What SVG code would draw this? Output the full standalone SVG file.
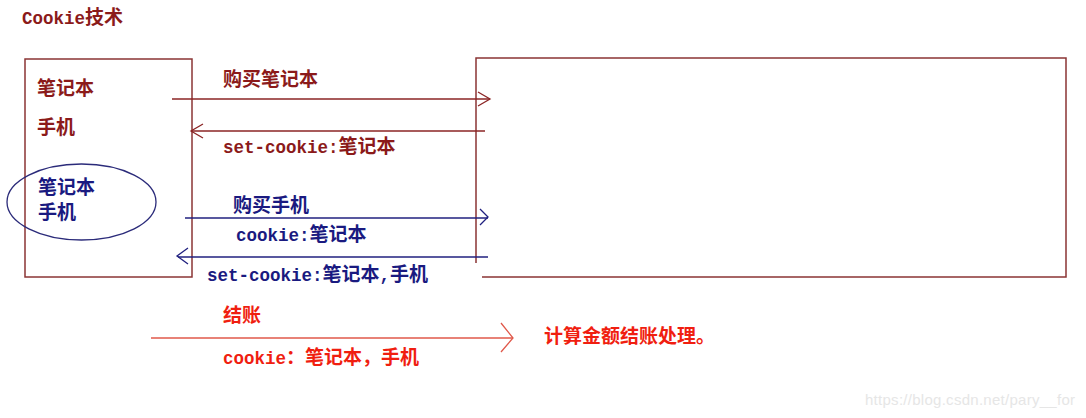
<svg xmlns="http://www.w3.org/2000/svg" width="1086" height="418" viewBox="0 0 1086 418">
<style>
.bg{fill:#ffffff}
.box{fill:none;stroke:#8B3535;stroke-width:1.5}
.dr{fill:#8B1A1A}
.nv{fill:#1A1A80}
.rd{fill:#F01E10}
.cjk{font-family:"Noto Sans CJK SC","Liberation Sans",sans-serif;font-size:19px;font-weight:bold}
.mono{font-family:"Liberation Mono","Noto Sans CJK SC",monospace;font-size:17.5px;font-weight:bold}
.ln-dr{fill:none;stroke:#8B2525;stroke-width:1.3}
.ln-nv{fill:none;stroke:#20207F;stroke-width:1.3}
.ln-rd{fill:none;stroke:#E0584A;stroke-width:1.3}
.wm{font-family:"Liberation Sans",Arial,sans-serif;font-size:15px;fill:#e6e6e6}
</style>
<rect class="bg" x="0" y="0" width="1086" height="418"/>

<g id="title">
  <text class="dr" x="22" y="24"><tspan class="mono" font-size="17">Cookie</tspan><tspan class="cjk" font-size="19">技术</tspan></text>
</g>

<g id="client">
  <rect class="box" x="25" y="59" width="167" height="218"/>
  <text class="dr cjk" x="37" y="95">笔记本</text>
  <text class="dr cjk" x="37" y="134">手机</text>
</g>

<g id="cookie-store">
  <ellipse cx="81.5" cy="202" rx="74.5" ry="38" fill="none" stroke="#2B2B7A" stroke-width="1.3"/>
  <text class="nv cjk" x="38" y="194">笔记本</text>
  <text class="nv cjk" x="38" y="219">手机</text>
</g>

<g id="server">
  <path class="box" d="M476,263 V58 H1066 V277 H482"/>
</g>

<g id="result">
  <text class="rd cjk" x="544" y="343">计算金额结账处理。</text>
</g>

<g id="connectors">
  <line class="ln-dr" x1="172" y1="99" x2="490" y2="99"/>
  <polyline class="ln-dr" points="478,92 490,99 478,106"/>
  <text class="dr cjk" x="223" y="86">购买笔记本</text>

  <line class="ln-dr" x1="485" y1="131" x2="191" y2="131"/>
  <polyline class="ln-dr" points="203,124 191,131 203,138"/>
  <text class="dr" x="223" y="153"><tspan class="mono">set-cookie:</tspan><tspan class="cjk">笔记本</tspan></text>

  <line class="ln-nv" x1="185" y1="218" x2="488" y2="218"/>
  <polyline class="ln-nv" points="480,209 488,217 480,225"/>
  <text class="nv cjk" x="233" y="212">购买手机</text>
  <text class="nv" x="236" y="241"><tspan class="mono" font-size="17">cookie:</tspan><tspan class="cjk" font-size="19.5">笔记本</tspan></text>

  <line class="ln-nv" x1="488" y1="257" x2="178" y2="257"/>
  <polyline class="ln-nv" points="188,248 177,256 188,264"/>
  <text class="nv" x="207" y="281"><tspan class="mono">set-cookie:</tspan><tspan class="cjk" font-size="19.5">笔记本</tspan><tspan class="mono">,</tspan><tspan class="cjk" font-size="19.5">手机</tspan></text>

  <line class="ln-rd" x1="151" y1="338" x2="513" y2="338"/>
  <polyline class="ln-rd" points="501,323 513,338 501,352"/>
  <text class="rd cjk" x="223" y="322">结账</text>
  <text class="rd" x="223" y="364"><tspan class="mono" font-size="16.7">cookie</tspan><tspan class="cjk" font-size="20">：笔记本，手机</tspan></text>
</g>

<text class="wm" x="865" y="405" textLength="210">https://blog.csdn.net/pary__for</text>
</svg>
